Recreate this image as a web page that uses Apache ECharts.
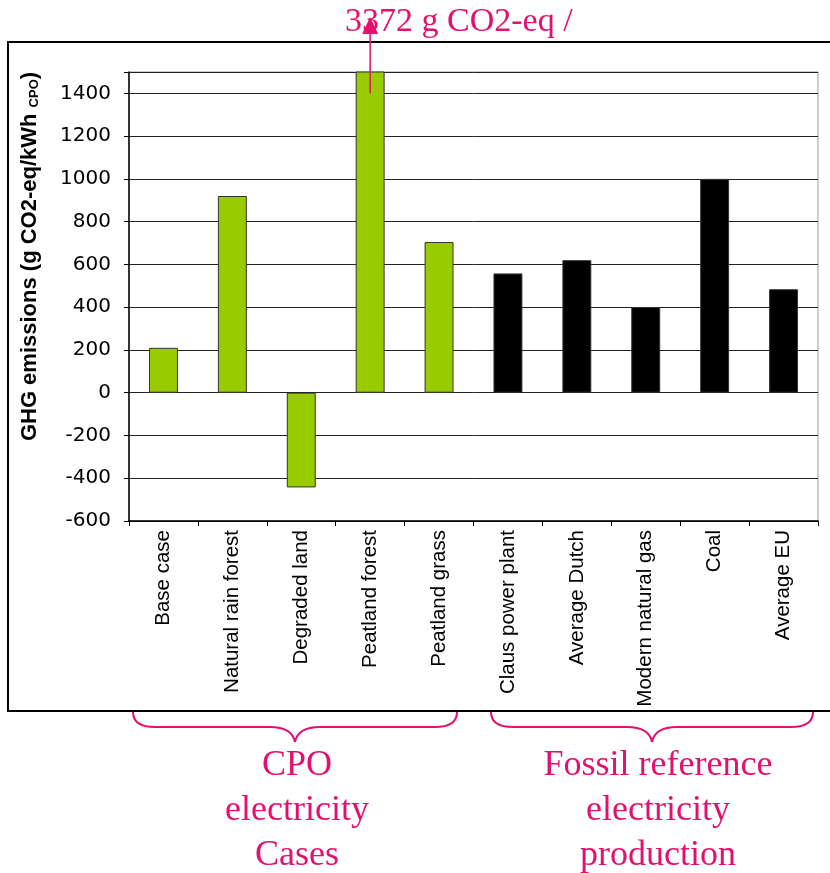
<!DOCTYPE html>
<html>
<head>
<meta charset="utf-8">
<script src="https://cdn.jsdelivr.net/npm/echarts@6/dist/echarts.min.js"></script>
<style>
  html, body { margin: 0; padding: 0; background: #fff; }
  #chart { width: 830px; height: 873px; }
</style>
</head>
<body>
<div id="chart"></div>
<script>
var categories = ['Base case', 'Natural rain forest', 'Degraded land', 'Peatland forest', 'Peatland grass',
  'Claus power plant', 'Average Dutch', 'Modern natural gas', 'Coal', 'Average EU']
var emissions = [210, 920, -443, 3372, 705, 558, 620, 401, 1000, 484]
var groups = ['cpo', 'cpo', 'cpo', 'cpo', 'cpo', 'fossil', 'fossil', 'fossil', 'fossil', 'fossil']
var groupColors = { cpo: '#99CC00', fossil: '#000000' }
var yTicks = { min: -600, max: 1500, step: 200 }
var calloutText = '3372 g CO2-eq /'
var groupTexts = ['CPO\nelectricity\nCases', 'Fossil reference\nelectricity\nproduction']

var pink = '#E3106E'
var chart = echarts.init(document.getElementById('chart'))

var barData = emissions.map(function (v, i) {
  return {
    value: v,
    itemStyle: { color: groupColors[groups[i]], borderColor: '#333', borderWidth: 1 }
  }
})

var option = {
  animation: false,
  backgroundColor: '#fff',
  grid: {
    left: 129, right: 12, top: 72, bottom: 352,
    show: true, borderColor: '#999', borderWidth: 1, backgroundColor: 'transparent'
  },
  xAxis: {
    type: 'category',
    data: categories,
    axisLine: { onZero: false, lineStyle: { color: '#000', width: 1.5 } },
    axisTick: { show: true, length: 5, lineStyle: { color: '#000' } },
    axisLabel: {
      rotate: 90, margin: 9, interval: 0,
      fontFamily: 'Liberation Sans', fontSize: 20.5, color: '#000'
    }
  },
  yAxis: {
    type: 'value',
    min: yTicks.min, max: yTicks.max, interval: yTicks.step,
    name: '{b|GHG emissions (g CO2-eq/kWh }{s|CPO}{b|)}',
    nameLocation: 'middle',
    nameGap: 88,
    nameRotate: 90,
    nameTextStyle: {
      padding: [0, 0, 0, 80],
      rich: {
        b: { fontFamily: 'Liberation Sans', fontWeight: 'bold', fontSize: 22, color: '#000' },
        s: { fontFamily: 'Liberation Sans', fontWeight: 'bold', fontSize: 13, color: '#000', verticalAlign: 'bottom' }
      }
    },
    axisLine: { show: true, lineStyle: { color: '#000', width: 1.5 } },
    axisTick: { show: true, length: 5, lineStyle: { color: '#000' } },
    axisLabel: {
      margin: 18,
      fontFamily: 'DejaVu Sans', fontSize: 20, color: '#000',
      formatter: function (v) { return v > 1400 ? '' : String(v) }
    },
    splitLine: { show: true, lineStyle: { color: '#222', width: 1 } }
  },
  series: [{
    type: 'bar',
    data: barData,
    barWidth: '42%',
    clip: true
  }]
}
chart.setOption(option)

// annotations placed from the axis scale
var peatX = chart.convertToPixel({ xAxisIndex: 0 }, 'Peatland forest')
var topY = chart.convertToPixel({ yAxisIndex: 0 }, 1400)

function brace(x1, x2, xm) {
  var y0 = 712, y1 = 727, y2 = 742
  var st = { stroke: pink, lineWidth: 2, fill: 'none' }
  function curve(a, b, c, d) {
    return { type: 'bezierCurve', silent: true, style: st,
      shape: { x1: a[0], y1: a[1], cpx1: b[0], cpy1: b[1], cpx2: c[0], cpy2: c[1], x2: d[0], y2: d[1] } }
  }
  function seg(a, b) {
    return { type: 'line', silent: true, style: st, shape: { x1: a[0], y1: a[1], x2: b[0], y2: b[1] } }
  }
  return {
    type: 'group',
    children: [
      curve([x1, y0], [x1, y0 + 10], [x1 + 7, y1], [x1 + 22, y1]),
      seg([x1 + 22, y1], [xm - 25, y1]),
      curve([xm - 25, y1], [xm - 10, y1], [xm - 2, y1 + 5], [xm, y2]),
      curve([xm, y2], [xm + 2, y1 + 5], [xm + 10, y1], [xm + 25, y1]),
      seg([xm + 25, y1], [x2 - 22, y1]),
      curve([x2 - 22, y1], [x2 - 7, y1], [x2, y0 + 10], [x2, y0])
    ]
  }
}

chart.setOption({
  graphic: [
    {
      type: 'rect', silent: true,
      shape: { x: 8, y: 42, width: 840, height: 669 },
      style: { fill: 'none', stroke: '#000', lineWidth: 2 }
    },
    {
      type: 'line', silent: true, z: 20,
      shape: { x1: peatX, y1: topY, x2: peatX, y2: 30 },
      style: { stroke: pink, lineWidth: 1.5 }
    },
    {
      type: 'polygon', silent: true, z: 20,
      shape: { points: [[peatX, 17], [peatX - 8, 34], [peatX + 8, 34]] },
      style: { fill: pink }
    },
    {
      type: 'text', silent: true, z: 19,
      x: 345, y: 22,
      style: {
        text: calloutText, fill: pink, font: '34px "Liberation Serif"',
        align: 'left', verticalAlign: 'middle'
      }
    },
    brace(133, 457, 295),
    brace(491, 813, 652),
    {
      type: 'text', silent: true,
      x: 297, y: 743,
      style: {
        text: groupTexts[0], fill: pink, font: '36px "Liberation Serif"',
        align: 'center', verticalAlign: 'top', lineHeight: 45
      }
    },
    {
      type: 'text', silent: true,
      x: 658, y: 743,
      style: {
        text: groupTexts[1], fill: pink, font: '36px "Liberation Serif"',
        align: 'center', verticalAlign: 'top', lineHeight: 45
      }
    }
  ]
})
</script>
</body>
</html>
